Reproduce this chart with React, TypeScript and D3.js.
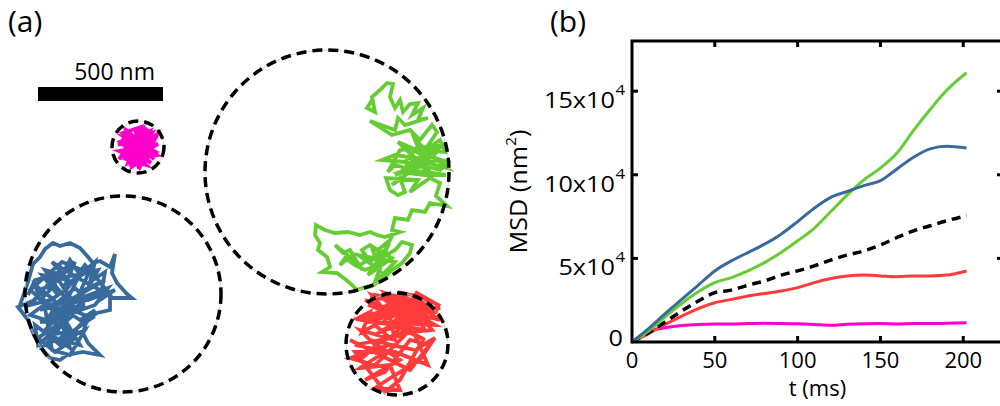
import React from "react";
import * as d3 from "d3";

const W = 1000;
const H = 406;
const FONT = "'Open Sans', 'DejaVu Sans', sans-serif";

// ---------- (a) trajectories, positions in nm ----------
const regionColors = ["#ff00cc", "#386a9c", "#66cc33", "#ff3b3b"];
const regionCx = [552, 492, 1308, 1588];
const regionCy = [588, 1176, 688, 1376];
const regionR = [104, 392, 488, 204];

const magentaTrack: [number, number][] = [
  [552, 588], [612, 548], [504, 636], [584, 660], [480, 568], [600, 524], [532, 664], [624, 608],
  [492, 532], [564, 508], [512, 652], [632, 576], [476, 604], [576, 644], [540, 516], [616, 636],
  [496, 548], [592, 568], [520, 668], [608, 532], [472, 580], [572, 540], [528, 628], [628, 620],
  [504, 520], [560, 668], [620, 556], [484, 624], [588, 512], [544, 612], [604, 652], [488, 552],
  [596, 600], [516, 536], [552, 660], [624, 540], [476, 636], [568, 524], [536, 644], [612, 588],
  [512, 588], [584, 620], [552, 548], [520, 564], [592, 540], [548, 628], [500, 600], [580, 580],
];

const blueTrack: [number, number][] = [
  [80, 1220], [112, 1128], [132, 1056], [160, 1028], [180, 996], [212, 972], [240, 984], [280, 972],
  [320, 992], [352, 1028], [372, 1052], [400, 1044], [440, 1068], [460, 1016], [448, 1092], [468, 1132],
  [508, 1176], [528, 1192], [440, 1192], [440, 1240], [388, 1252], [348, 1280], [332, 1332], [352, 1372],
  [400, 1420], [332, 1408], [268, 1420], [240, 1440], [200, 1432], [172, 1400], [132, 1332], [112, 1280],
  [72, 1228], [140, 1200], [240, 1080], [192, 1160], [300, 1048], [260, 1140], [360, 1080], [320, 1168],
  [420, 1120], [280, 1200], [380, 1180], [220, 1240], [340, 1220], [160, 1288], [280, 1272], [200, 1340],
  [312, 1320], [180, 1380], [248, 1300], [120, 1260], [232, 1180], [168, 1100], [272, 1120], [208, 1048],
  [340, 1128], [400, 1160], [288, 1240], [368, 1272], [240, 1360], [320, 1380], [260, 1280], [152, 1352],
  [220, 1408], [300, 1352], [192, 1220], [120, 1160], [248, 1048], [328, 1080], [232, 1272], [380, 1220],
  [432, 1152], [344, 1184], [160, 1240], [264, 1192], [200, 1120], [304, 1100], [392, 1080], [352, 1152],
  [180, 1320], [280, 1392], [216, 1200], [140, 1140],
  [160, 1200], [220, 1140], [180, 1080], [248, 1100], [280, 1040], [320, 1100], [380, 1048], [360, 1128],
  [420, 1088], [400, 1200], [460, 1160], [352, 1200], [300, 1152], [240, 1200], [192, 1272], [260, 1240],
  [320, 1280], [380, 1240], [300, 1320], [240, 1380], [192, 1340], [140, 1300], [152, 1380], [220, 1320],
  [272, 1352], [340, 1320], [280, 1420], [208, 1400], [168, 1160], [120, 1220], [200, 1200], [264, 1160],
  [340, 1060], [400, 1128], [440, 1180], [368, 1180], [288, 1200], [220, 1100], [140, 1120], [112, 1180],
];

const greenTrack: [number, number][] = [
  [1488, 400], [1468, 432], [1500, 448], [1488, 388], [1520, 360], [1548, 332], [1572, 336], [1560, 388],
  [1580, 432], [1600, 400], [1612, 448], [1640, 416], [1672, 412], [1648, 460], [1692, 432], [1672, 480],
  [1712, 472], [1620, 500], [1592, 472], [1580, 520], [1480, 484], [1568, 540], [1640, 520], [1680, 560],
  [1728, 500], [1748, 528], [1700, 600], [1760, 560], [1780, 608], [1640, 592], [1720, 640], [1580, 620],
  [1528, 640], [1620, 648], [1660, 600], [1740, 632], [1792, 648], [1760, 680], [1680, 660], [1600, 688],
  [1700, 700], [1784, 700], [1648, 680], [1580, 660], [1552, 688],
  [1600, 600], [1780, 580], [1620, 660], [1760, 640], [1592, 568], [1720, 688], [1640, 632], [1788, 672],
  [1660, 560], [1700, 660], [1580, 700], [1760, 600],
  [1568, 740], [1600, 712], [1620, 768],
  [1592, 780], [1560, 760], [1544, 712], [1672, 720], [1640, 768], [1720, 712], [1760, 732], [1744, 784],
  [1788, 824], [1720, 812], [1700, 848], [1648, 840], [1632, 880], [1580, 872], [1568, 920], [1600, 928],
  [1540, 948], [1508, 940], [1480, 928], [1440, 940], [1392, 928], [1340, 932], [1300, 920], [1264, 900],
  [1260, 940], [1280, 972], [1272, 1000], [1308, 1028], [1320, 1068], [1288, 1088], [1348, 1092], [1380, 1116],
  [1408, 1140], [1428, 1160], [1460, 1148], [1488, 1144], [1528, 1120], [1568, 1080], [1608, 1052], [1640, 1012],
  [1648, 980], [1608, 968], [1580, 1000], [1540, 1024], [1500, 1032], [1480, 1048], [1448, 1000], [1480, 980],
  [1512, 1000], [1560, 960], [1512, 1060], [1460, 1080], [1420, 1060], [1380, 1032], [1360, 1060], [1408, 1020],
  [1448, 1080], [1400, 1000], [1372, 1012], [1340, 980],
  [1440, 1060], [1540, 1000], [1472, 1100], [1568, 1032], [1488, 992], [1520, 1080], [1432, 1020], [1580, 1048],
  [1500, 1128], [1552, 980],
];

const redTrack: [number, number][] = [
  [1480, 1192], [1720, 1200], [1500, 1232], [1752, 1248], [1460, 1260], [1700, 1220], [1520, 1184], [1640, 1280],
  [1560, 1200], [1740, 1300], [1488, 1288], [1680, 1192], [1600, 1260], [1472, 1220], [1720, 1272], [1540, 1320],
  [1660, 1208], [1580, 1300], [1760, 1232], [1512, 1248], [1620, 1184], [1700, 1320], [1448, 1280], [1600, 1224],
  [1552, 1272], [1728, 1208], [1500, 1340], [1648, 1248], [1568, 1184], [1680, 1300],
  [1460, 1200], [1520, 1220], [1488, 1180], [1580, 1212], [1540, 1172], [1640, 1200], [1592, 1168], [1700, 1192],
  [1660, 1168], [1752, 1220], [1712, 1248], [1760, 1280], [1680, 1260], [1728, 1320], [1640, 1328], [1700, 1360],
  [1600, 1312], [1560, 1352], [1500, 1300], [1448, 1328], [1480, 1248], [1432, 1272], [1528, 1272], [1580, 1240],
  [1632, 1232], [1672, 1272], [1620, 1288], [1552, 1232],
  [1580, 1360], [1440, 1320], [1520, 1400], [1420, 1380], [1620, 1340], [1500, 1460], [1400, 1432], [1560, 1380],
  [1660, 1400], [1480, 1360], [1600, 1440], [1460, 1520], [1540, 1488], [1640, 1360], [1720, 1380], [1680, 1440],
  [1580, 1500], [1500, 1552], [1600, 1560], [1560, 1460], [1440, 1472], [1520, 1420], [1400, 1360], [1640, 1480],
  [1740, 1352], [1672, 1392], [1600, 1520], [1540, 1568], [1480, 1488], [1420, 1408], [1580, 1408], [1712, 1460],
  [1648, 1312], [1520, 1368], [1448, 1432],
];

const tracks = [magentaTrack, blueTrack, greenTrack, redTrack];

const scaleBarStartNm = 152;
const scaleBarLengthNm = 500;
const scaleBarYNm = 348;

// ---------- (b) MSD curves ----------
const timeMs = [0, 10, 20, 30, 40, 50, 60, 70, 80, 90, 100, 110, 120, 130, 140, 150, 160, 170, 180, 190, 202];
const msdBlue = [0, 8000, 17000, 25500, 34000, 42500, 48500, 53500, 58500, 64500, 72000, 80000, 86500, 90000, 93500, 96500, 103500, 110500, 115500, 117000, 116000];
const msdGreen = [0, 6500, 15000, 23000, 30000, 35500, 38500, 42500, 47500, 53500, 60500, 68000, 78000, 88000, 97000, 104000, 113000, 126500, 139000, 150500, 161000];
const msdRed = [0, 5000, 10500, 15500, 20000, 23500, 25500, 27500, 29000, 30500, 32500, 35500, 38000, 39500, 40000, 39500, 39000, 39500, 39500, 40000, 42500];
const msdMagenta = [0, 6500, 8500, 9800, 10500, 10800, 10700, 11000, 11200, 11000, 10900, 10500, 10000, 10600, 10900, 11000, 10800, 11000, 11000, 11200, 11500];
const msdAverage = [0, 5500, 12000, 18500, 24500, 29500, 31000, 34000, 36500, 40000, 42500, 45500, 49000, 52000, 54500, 58000, 62500, 66500, 69500, 72500, 75500];

const xTicks = [0, 50, 100, 150, 200];
const yTicks = [0, 50000, 100000, 150000];
const yTickMantissa = ["0", "5x10", "10x10", "15x10"];

export default function App() {
  const nm = d3.scaleLinear().domain([0, 4000]).range([0, 1000]);
  const trackLine = d3
    .line<[number, number]>()
    .x((d) => nm(d[0]))
    .y((d) => nm(d[1]));

  const x = d3.scaleLinear().domain([0, 224]).range([632, 1003]);
  const y = d3.scaleLinear().domain([0, 180000]).range([342, 41]);
  const msdLine = (vals: number[]) =>
    d3
      .line<number>()
      .x((_, i) => x(timeMs[i]))
      .y((v) => y(v))
      .curve(d3.curveMonotoneX)(vals) as string;

  const [x0, x1] = x.range();
  const [y0, y1] = y.range();

  return (
    <svg
      width={W}
      height={H}
      style={{ position: "absolute", left: 0, top: 0, background: "#fff" }}
      fontFamily={FONT}
    >
      {/* panel (a) */}
      <text x={8} y={32} fontSize={30}>(a)</text>
      <rect
        x={nm(scaleBarStartNm)}
        y={nm(scaleBarYNm)}
        width={nm(scaleBarStartNm + scaleBarLengthNm) - nm(scaleBarStartNm)}
        height={14}
        fill="#000"
      />
      <text
        x={nm(scaleBarStartNm + scaleBarLengthNm) - 8}
        y={nm(scaleBarYNm) - 7}
        fontSize={23}
        textAnchor="end"
      >
        500 nm
      </text>

      {tracks.map((t, i) => (
        <path
          key={"t" + i}
          d={trackLine(t) as string}
          fill="none"
          stroke={regionColors[i]}
          strokeWidth={3.8}
          strokeLinejoin="miter"
          strokeMiterlimit={5}
        />
      ))}
      {regionCx.map((cx, i) => (
        <g key={"c" + i}>
          <circle cx={nm(cx)} cy={nm(regionCy[i])} r={nm(regionR[i])} fill="none" stroke="#c8c8c8" strokeWidth={0.8} />
          <circle
            cx={nm(cx)}
            cy={nm(regionCy[i])}
            r={nm(regionR[i])}
            fill="none"
            stroke="#000"
            strokeWidth={3.5}
            strokeDasharray="10 6"
          />
        </g>
      ))}

      {/* panel (b) */}
      <text x={550} y={32} fontSize={30}>(b)</text>

      <path d={msdLine(msdMagenta)} fill="none" stroke={regionColors[0]} strokeWidth={3} />
      <path d={msdLine(msdRed)} fill="none" stroke={regionColors[3]} strokeWidth={3} />
      <path d={msdLine(msdAverage)} fill="none" stroke="#000" strokeWidth={3.5} strokeDasharray="9 6" />
      <path d={msdLine(msdGreen)} fill="none" stroke={regionColors[2]} strokeWidth={3} />
      <path d={msdLine(msdBlue)} fill="none" stroke={regionColors[1]} strokeWidth={3} />

      <rect x={x0} y={y1} width={x1 - x0} height={y0 - y1} fill="none" stroke="#000" strokeWidth={3} />

      {xTicks.slice(1).map((t) => (
        <g key={"xt" + t} stroke="#000" strokeWidth={3}>
          <line x1={x(t)} x2={x(t)} y1={y0} y2={y0 - 6} />
          <line x1={x(t)} x2={x(t)} y1={y1} y2={y1 + 6} />
        </g>
      ))}
      {yTicks.slice(1).map((v) => (
        <g key={"yt" + v} stroke="#000" strokeWidth={3}>
          <line x1={x0} x2={x0 + 6} y1={y(v)} y2={y(v)} />
          <line x1={x1} x2={x1 - 6} y1={y(v)} y2={y(v)} />
        </g>
      ))}

      {xTicks.map((t) => (
        <text key={"xl" + t} x={x(t)} y={368} fontSize={22} textAnchor="middle">
          {t}
        </text>
      ))}
      <text x={(x0 + x1) / 2} y={396} fontSize={22} textAnchor="middle">
        t (ms)
      </text>

      {yTicks.map((v, i) =>
        v === 0 ? (
          <g key={"yl" + v} transform={`translate(623,${y(v) + 4}) scale(1.2,1)`}>
            <text fontSize={21} textAnchor="end">0</text>
          </g>
        ) : (
          <g key={"yl" + v} transform={`translate(625,${y(v) + 17}) scale(1.2,1)`}>
            <text x={-8.5} fontSize={21} textAnchor="end">{yTickMantissa[i]}</text>
            <text y={-13} fontSize={14} textAnchor="end">4</text>
          </g>
        )
      )}

      <g transform={`translate(527,${(y0 + y1) / 2}) rotate(-90) scale(1.05,1)`}>
        <text fontSize={24} textAnchor="middle">
          MSD (nm
          <tspan dy={-11} fontSize={15}>2</tspan>
          <tspan dy={11}>)</tspan>
        </text>
      </g>
    </svg>
  );
}
